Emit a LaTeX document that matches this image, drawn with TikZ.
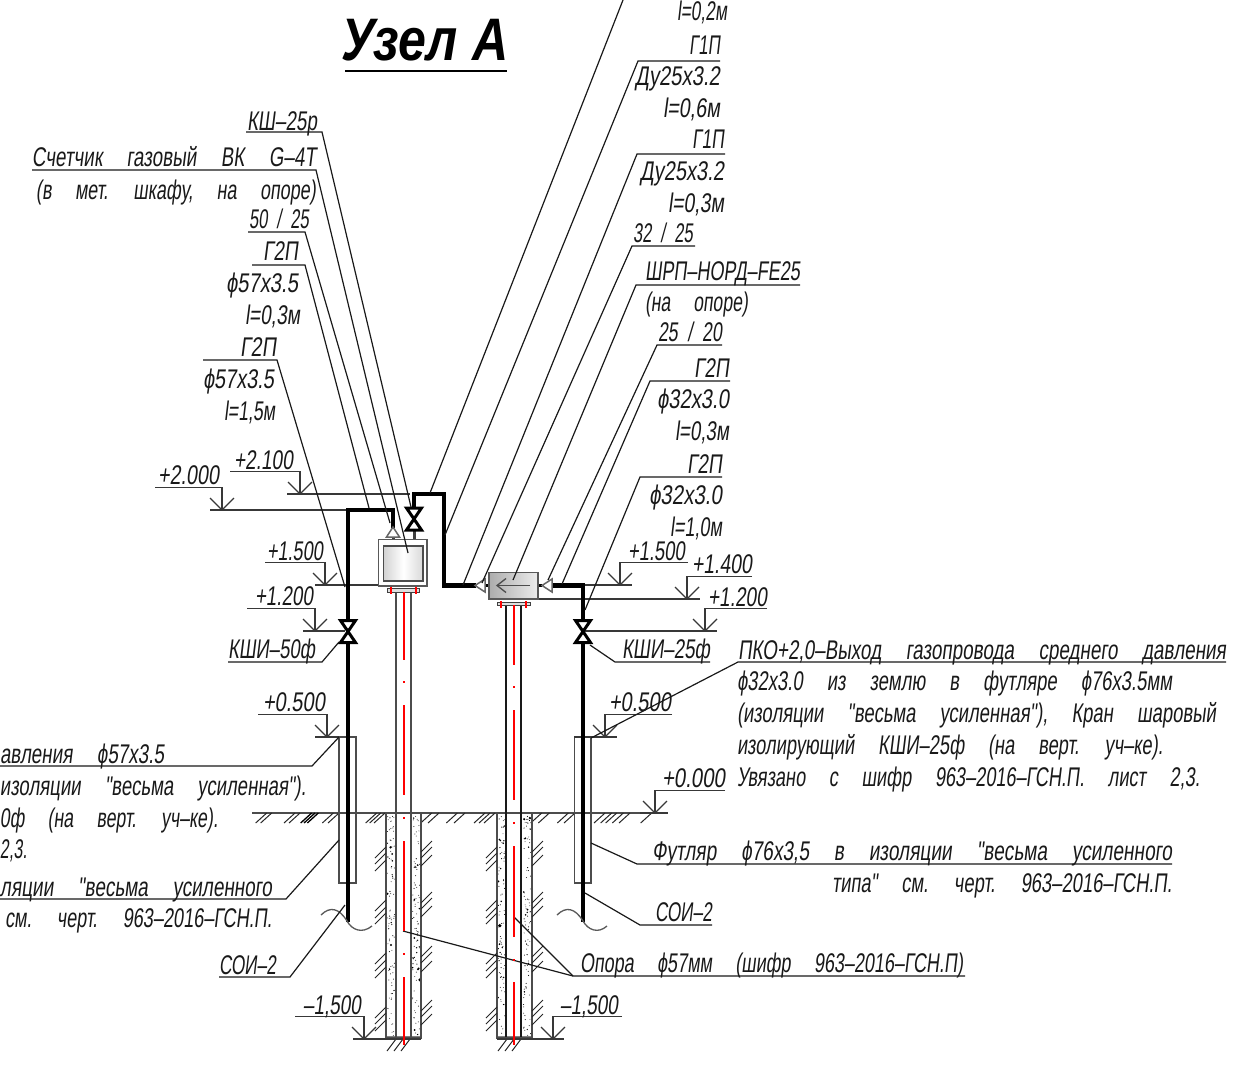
\documentclass[tikz,border=0pt]{standalone}
\usepackage{fontspec}
\usepackage{graphicx}
\newfontfamily\lblfam{Liberation Sans}[FakeSlant=0.18]
\newfontfamily\ttlfam{Liberation Sans}[BoldFont={Liberation Sans Bold},ItalicFont={Liberation Sans Italic},BoldItalicFont={Liberation Sans Bold Italic}]
\newsavebox\tbox
\newcommand\lblfont{\lblfam\fontsize{27}{27}\selectfont\spaceskip=1.3em\relax}
\newcommand\T[5]{%
 \node[txt] (#1) at ({(#2+#3)/2},#4+9) {\setbox\tbox=\hbox{\lblfont #5}\edef\tw{\the\wd\tbox}%
 \pgfmathsetmacro\tfac{(#3-#2)/\tw}\scalebox{\tfac}[1]{\usebox\tbox}};}
\definecolor{rebar}{RGB}{255,0,0}
\tikzset{
 txt/.style={anchor=base,inner sep=0pt,outer sep=0pt,text=black!90},
 leader/.style={line width=1.2pt,black!90},
 elev/.style={line width=1.3pt,black!78},
 pipe/.style={line width=4.2pt,black,line join=miter},
 grayl/.style={line width=1.4pt,black!70},
 hatch/.style={line width=1pt,black!85},
 valve/.style={line width=3pt,black,fill=white,line join=miter},
 redl/.style={line width=1.4pt,draw=rebar},
}
% elevation mark: tip x, tip y, under-line far x, ext left, ext right
\newcommand\EL[5]{%
 \draw[elev] (#3,#2-22.5) -- (#1,#2-22.5) -- (#1,#2);
 \draw[elev] (#1-12,#2-12) -- (#1,#2) -- (#1+12,#2-12);
 \draw[elev] (#4,#2) -- (#5,#2);}
\newcommand\BOW[2]{\draw[valve] (#1-7.5,#2-11) -- (#1+7.5,#2-11) -- (#1-7.5,#2+11) -- (#1+7.5,#2+11) -- cycle;}
\newcommand\FOOT[4]{% left wall x, post left, centre, seed
 \pgfmathsetseed{#4}
 \foreach \i in {1,...,95}{
  \pgfmathsetmacro\px{#1+1+7.5*rnd}\pgfmathsetmacro\py{816+220*rnd}\pgfmathsetmacro\pr{0.45+0.6*rnd*rnd*rnd*rnd*3}
  \fill[black] (\px,\py) circle[radius=\pr pt];
  \pgfmathsetmacro\px{#1+26.5+7.5*rnd}\pgfmathsetmacro\py{816+220*rnd}\pgfmathsetmacro\pr{0.45+0.6*rnd*rnd*rnd*rnd*3}
  \fill[black] (\px,\py) circle[radius=\pr pt];}
 \draw[grayl] (#1,813) -- (#1,1038) -- (#1+35,1038) -- (#1+35,813);
 \draw[line width=1.8pt,black!50] (#1+1,1036.5) -- (#1+34,1036.5);
 \foreach \y in {847,853,860,900,907,913,953,960,967,1007,1013,1020}
  \draw[hatch] (#1,\y) -- ++(-11,11);
 \foreach \y in {852,858,866,903,909,917,957,963,972,1011,1017,1025}
  \draw[hatch] (#1+35,\y) -- ++(11,-11);
 \foreach \d in {10,17,24}
  \draw[hatch] (#1+\d,1039) -- ++(-9,12);
}
\begin{document}
\begin{tikzpicture}[x=1pt,y=-1pt]
\useasboundingbox (0,0) rectangle (1241,1079);
% title
\node[inner sep=0pt,anchor=base,text=black] (title) at (425,60) {\scalebox{0.835}[1]{\ttlfam\fontsize{60}{60}\selectfont\bfseries\itshape Узел А}};
\draw[line width=1.5pt] (345,71) -- (507,71);

% ground
\draw[grayl] (252,813) -- (668,813);
\foreach \z in {80,95,165,180,280,297,410,422,435,575,597,652,675,735,750,765,905,928,985,1005,1095,1115,1130,1150,1170,1235}
 \draw[hatch] ({240+\z/3},813) -- ++(-11,10);
\foreach \z in {215,225,235}
 \draw[line width=1.3pt,black] ({240+\z/3},813) -- ++(-11,10);

% footings
\FOOT{386}{396}{403}{11}
\FOOT{497}{506}{514}{27}

% posts
\draw[grayl] (396,592) -- (396,1037);
\draw[grayl] (411,592) -- (411,1037);
\draw[line width=1.3pt,black!90] (506,605) -- (506,1037);
\draw[line width=1.3pt,black!90] (521,605) -- (521,1037);

% flanges
\draw[line width=1pt,black!75,fill=gray!25] (387,588.5) rectangle (419,592);
\draw[line width=1pt,black!75,fill=gray!25] (497,602) rectangle (530,605.5);
\foreach \x/\ya/\yb in {391/587/594,416/587/594,501/601/608,526/601/608}
 \draw[redl] (\x,\ya) -- (\x,\yb);

% casings
\draw[grayl] (339,737) rectangle (356,883);
\draw[grayl] (574.5,737) rectangle (591,883);

% elevations
\EL{300}{494}{230}{287}{410}
\EL{222}{510}{155}{210}{350}
\EL{325}{585}{265}{315}{380}
\EL{315}{631}{247}{303}{345}
\EL{327}{737}{258}{315}{339}
\EL{620}{585}{688}{552}{632}
\EL{687}{599}{752}{538}{700}
\EL{705}{631}{767}{583}{717}
\EL{605}{737}{672}{574}{617}
\EL{655}{813}{725}{640}{668}
\EL{364}{1039}{295}{353}{421}
\EL{553}{1039}{622}{497}{564}

% pipes
\draw[pipe] (348,922) -- (348,510) -- (393,510) -- (393,528);
\draw[pipe] (414,530) -- (414,494) -- (444,494) -- (444,585.5) -- (476,585.5);
\draw[pipe] (552,585.5) -- (583,585.5) -- (583,922);
\draw[line width=3pt,black!75] (393,536) -- (393,546);
\draw[line width=3pt,black!75] (414,530) -- (414,546);
\draw[line width=3pt,black] (485,585.5) -- (491,585.5);
\draw[line width=3pt,black] (536,585.5) -- (542,585.5);

% breaks
\draw[line width=1.3pt,black!65] (321,915) .. controls (330,906) and (339,908) .. (347,921) .. controls (352,930) and (362,934) .. (372,926);
\draw[line width=1.3pt,black!65] (557,915) .. controls (566,906) and (575,908) .. (583,921) .. controls (588,930) and (598,934) .. (607,926);

% gas meter
\draw[line width=1.6pt,black!65,fill=white] (378.5,539.5) rectangle (427,586);
\draw[line width=1.6pt,black!70,left color=gray!35,right color=gray!30,middle color=white] (383.5,546) rectangle (423,581);
\draw[line width=1.5pt,black!60,fill=white] (393,527) -- (399.5,537) -- (386.5,537) -- cycle;

% SHRP
\draw[line width=1.6pt,black!65,left color=gray!65,right color=gray!15] (489,572.5) rectangle (538,599);
\draw[line width=1.3pt,black!70] (530,585.5) -- (497,585.5);
\draw[line width=1.3pt,black!70] (506,578.5) -- (497,585.5) -- (506,592.5);
\draw[line width=1.5pt,black!60,fill=white] (475,585.5) -- (485,579) -- (485,592) -- cycle;
\draw[line width=1.5pt,black!60,fill=white] (542,585.5) -- (552,579) -- (552,592) -- cycle;

% valves
\BOW{348}{631.5}
\BOW{583}{631.5}
\BOW{414}{519}

% leaders, upper right
\draw[leader] (623,0) -- (430,493);
\draw[leader] (720,61) -- (638,61) -- (445,535);
\draw[leader] (725,154) -- (637,154) -- (463,585);
\draw[leader] (695,246) -- (632,246) -- (482,583);
\draw[leader] (800,285) -- (636,285) -- (513,580);
\draw[leader] (722,345) -- (657,345) -- (548,580);
\draw[leader] (730,381) -- (650,381) -- (562,584);
\draw[leader] (722,477) -- (640,477) -- (585,610);
% upper left
\draw[leader] (246,132) -- (322,132) -- (411,507);
\draw[leader] (32,170) -- (316,170) -- (408,553);
\draw[leader] (248,232) -- (305,232) -- (390,523);
\draw[leader] (252,265) -- (305,265) -- (369,508);
\draw[leader] (203,360) -- (277,360) -- (345,587);
% lower
\draw[leader] (228,662) -- (322,662) -- (339,642);
\draw[leader] (710,662) -- (615,662) -- (590,645);
\draw[leader] (0,766) -- (312,766) -- (339,737);
\draw[leader] (0,899) -- (286,899) -- (339,840);
\draw[leader] (219,977) -- (290,977) -- (345,905);
\draw[leader] (1226,662) -- (738,662) -- (591,738);
\draw[leader] (1172,864) -- (637,864) -- (591,843);
\draw[leader] (712,925) -- (640,925) -- (585,893);
\draw[leader] (965,976) -- (573,976) -- (403,931);
\draw[leader] (573,976) -- (514,917);

% rebar axis, drawn last so that nothing covers it
\foreach \ya/\yb in {592/660,705/795,817/819,841/931,953/955,977/1045,681/683}
 \draw[redl] (404,\ya) -- (404,\yb);
\foreach \ya/\yb in {605/665,710/800,822/824,846/937,959/961,982/1045,686/688}
 \draw[redl] (514,\ya) -- (514,\yb);

% labels upper right
\T{a1}{677}{727}{11}{l=0,2м}
\T{a2}{689}{720}{45}{Г1П}
\T{a3}{635}{720}{76}{Ду25х3.2}
\T{a4}{663}{720}{108}{l=0,6м}
\T{a5}{692}{724}{139}{Г1П}
\T{a6}{640}{724}{171}{Ду25х3.2}
\T{a7}{668}{724}{203}{l=0,3м}
\T{a8}{633}{693}{233}{32\kern.55em/\kern.55em25}
\T{a9}{645}{800}{271}{ШРП–НОРД–FE25}
\T{a10}{645}{748}{302}{(на опоре)}
\T{a11}{658}{722}{332}{25\kern.55em/\kern.55em20}
\T{a12}{694}{729}{368}{Г2П}
\T{a13}{657}{729}{399}{ϕ32х3.0}
\T{a14}{675}{729}{431}{l=0,3м}
\T{a15}{687}{722}{464}{Г2П}
\T{a16}{649}{722}{495}{ϕ32х3.0}
\T{a17}{670}{722}{527}{l=1,0м}
% labels upper left
\T{b1}{247}{317}{121}{КШ–25р}
\T{b2}{32}{316}{157}{Счетчик газовый ВК G–4Т}
\T{b3}{36}{316}{190}{(в мет. шкафу, на опоре)}
\T{b4}{249}{309}{219}{50\kern.55em/\kern.55em25}
\T{b5}{263}{298}{251}{Г2П}
\T{b6}{226}{298}{283}{ϕ57х3.5}
\T{b7}{245}{300}{315}{l=0,3м}
\T{b8}{240}{276}{347}{Г2П}
\T{b9}{203}{274}{379}{ϕ57х3.5}
\T{b10}{224}{275}{411}{l=1,5м}
% elevations text
\T{e1}{234}{293}{460}{+2.100}
\T{e2}{158}{219}{475}{+2.000}
\T{e3}{267}{323}{551}{+1.500}
\T{e4}{255}{313}{596}{+1.200}
\T{e5}{263}{325}{702}{+0.500}
\T{e6}{628}{685}{551}{+1.500}
\T{e7}{692}{752}{564}{+1.400}
\T{e8}{708}{767}{597}{+1.200}
\T{e9}{609}{671}{702}{+0.500}
\T{e10}{662}{725}{778}{+0.000}
\T{e11}{303}{361}{1005}{–1,500}
\T{e12}{560}{618}{1005}{–1,500}
% valves text
\T{v1}{228}{315}{649}{КШИ–50ф}
\T{v2}{622}{710}{649}{КШИ–25ф}
% left cut text
\T{l1}{0}{164}{754}{авления ϕ57х3.5}
\T{l2}{0}{306}{786}{изоляции "весьма усиленная").}
\T{l3}{0}{218}{818}{0ф (на верт. уч–ке).}
\T{l4}{0}{27}{849}{2,3.}
\T{l5}{0}{272}{887}{ляции "весьма усиленного}
\T{l6}{5}{272}{918}{см. черт. 963–2016–ГСН.П.}
\T{l7}{219}{276}{965}{СОИ–2}
% right text
\T{r1}{738}{1226}{650}{ПКО+2,0–Выход газопровода среднего давления}
\T{r2}{737}{1172}{681}{ϕ32х3.0 из землю в футляре ϕ76х3.5мм}
\T{r3}{737}{1216}{713}{(изоляции "весьма усиленная"), Кран шаровый}
\T{r4}{737}{1163}{745}{изолирующий КШИ–25ф (на верт. уч–ке).}
\T{r5}{737}{1200}{777}{Увязано с шифр 963–2016–ГСН.П. лист 2,3.}
\T{r6}{652}{1172}{851}{Футляр ϕ76х3,5 в изоляции "весьма усиленного}
\T{r7}{832}{1172}{883}{типа" см. черт. 963–2016–ГСН.П.}
\T{r8}{655}{712}{912}{СОИ–2}
\T{r9}{580}{963}{963}{Опора ϕ57мм (шифр 963–2016–ГСН.П)}
\end{tikzpicture}
\end{document}
